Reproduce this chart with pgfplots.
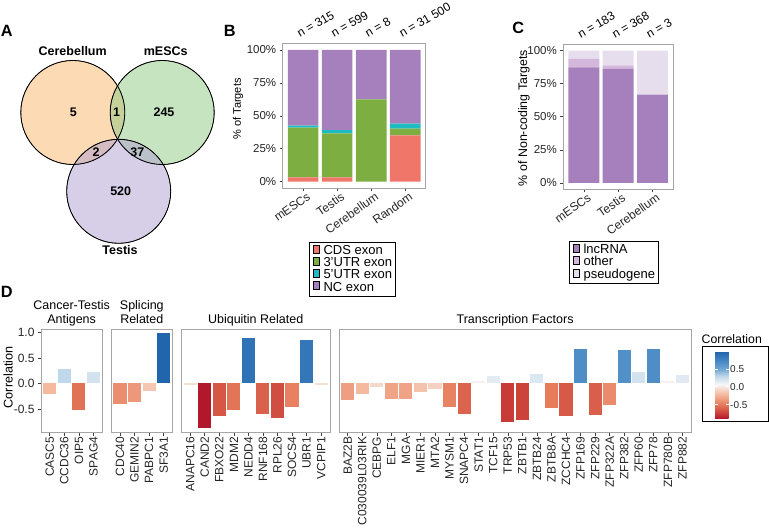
\documentclass[border=0pt]{standalone}
\usepackage{pgfplots}
\pgfplotsset{compat=1.18}
\usepackage{fontspec}
\setmainfont{Liberation Sans}
\definecolor{cds}{RGB}{240,118,106}
\definecolor{utrthree}{RGB}{124,174,66}
\definecolor{utrfive}{RGB}{30,188,194}
\definecolor{ncex}{RGB}{165,128,188}
\definecolor{lnc}{RGB}{165,128,188}
\definecolor{oth}{RGB}{212,184,220}
\definecolor{pseu}{RGB}{231,222,237}
\definecolor{vO}{RGB}{249,181,105}
\definecolor{vG}{RGB}{143,201,129}
\definecolor{vP}{RGB}{175,159,209}
\definecolor{frame}{RGB}{165,165,165}
\definecolor{cN4}{RGB}{178,24,43}
\definecolor{cN3}{RGB}{208,72,62}
\definecolor{cN2}{RGB}{229,122,90}
\definecolor{cN1}{RGB}{245,183,155}
\definecolor{cZ}{RGB}{247,247,247}
\definecolor{cP1}{RGB}{190,215,235}
\definecolor{cP2}{RGB}{110,165,210}
\definecolor{cP3}{RGB}{66,132,194}
\definecolor{cP4}{RGB}{33,102,172}
\newcommand\fs[1]{\fontsize{#1}{#1}\selectfont}
\newcommand\segcol[5]{%
  \pgfmathsetmacro\cp{max(0,min(100,((#1)-(#2))/((#3)-(#2))*100))}%
  \edef\ccol{#5!\cp!#4}}
\newcommand\cbar[2]{%
  \ifdim #2pt<-0.7pt \segcol{#2}{-0.88}{-0.7}{cN4}{cN3}%
  \else\ifdim #2pt<-0.5pt \segcol{#2}{-0.7}{-0.5}{cN3}{cN2}%
  \else\ifdim #2pt<-0.22pt \segcol{#2}{-0.5}{-0.22}{cN2}{cN1}%
  \else\ifdim #2pt<0.07pt \segcol{#2}{-0.22}{0.07}{cN1}{cZ}%
  \else\ifdim #2pt<0.3pt \segcol{#2}{0.07}{0.3}{cZ}{cP1}%
  \else\ifdim #2pt<0.5pt \segcol{#2}{0.3}{0.5}{cP1}{cP2}%
  \else\ifdim #2pt<0.75pt \segcol{#2}{0.5}{0.75}{cP2}{cP3}%
  \else \segcol{#2}{0.75}{0.98}{cP3}{cP4}%
  \fi\fi\fi\fi\fi\fi\fi
  \edef\cbartmp{\noexpand\addplot[ybar, bar shift=0pt, bar width=0.9, draw=none, fill=\ccol] coordinates {(#1,#2)};}%
  \cbartmp}
\pgfplotsset{
  colormap={corr}{rgb255(0pt)=(178,24,43) rgb255(18pt)=(208,72,62) rgb255(38pt)=(229,122,90) rgb255(66pt)=(245,183,155) rgb255(95pt)=(247,247,247) rgb255(118pt)=(190,215,235) rgb255(138pt)=(110,165,210) rgb255(163pt)=(66,132,194) rgb255(186pt)=(33,102,172)},
  panel/.style={scale only axis, anchor=south west,
    axis line style={draw=frame, line width=0.7pt},
    tick align=outside, major tick length=3pt,
    tick style={draw=black!75, line width=0.5pt},
    xtick pos=left, ytick pos=left, clip=false,
    ticklabel style={text=black!85}},
  leg/.style={legend cell align=left,
    legend image code/.code={\fill[##1,draw=none] (0pt,-3.4pt) rectangle (10.5pt,9.2pt);},
    legend style={anchor=north west, draw=black, line width=0.8pt, font=\fs{13},
      inner xsep=3.5pt, inner ysep=2.5pt,
      nodes={inner sep=0pt, text height=9.1pt, text depth=2.7pt},
      /tikz/every odd column/.append style={column sep=3.5pt}}},
  dfacet/.style={panel, height=103.4pt, ymin=-0.965, ymax=1.06,
    xmin=0.4, xticklabel style={rotate=90, anchor=east, font=\fs{12}, inner sep=1pt},
    title style={font=\fontsize{12.5}{14.5}\selectfont, align=center, anchor=south,
      at={(0.5,1)}, yshift=-5pt, inner sep=0pt}},
}
\begin{document}
\begin{tikzpicture}[x=1pt,y=1pt]
\useasboundingbox (0,0) rectangle (769,532);
% ---------------- A: Venn
\begin{axis}[at={(0pt,272pt)}, anchor=south west, scale only axis, width=230pt, height=220pt,
  xmin=0, xmax=230, ymin=40, ymax=260, y dir=reverse, hide axis, clip=false]
\addplot[only marks, mark=*, mark size=52pt, mark options={draw=none, fill=vO, fill opacity=0.5}] coordinates {(72.8,112.5)};
\addplot[only marks, mark=*, mark size=52pt, mark options={draw=none, fill=vG, fill opacity=0.5}] coordinates {(162.2,112.5)};
\addplot[only marks, mark=*, mark size=52pt, mark options={draw=none, fill=vP, fill opacity=0.5}] coordinates {(118.7,191.3)};
\addplot[only marks, mark=o, mark size=52pt, mark options={draw=black, line width=0.8pt}] coordinates {(72.8,112.5) (162.2,112.5) (118.7,191.3)};
\addplot[draw=none, mark=none, point meta=explicit symbolic, nodes near coords,
  every node near coord/.append style={anchor=center, font=\bfseries\fs{12.5}, text=black, fill opacity=1, text opacity=1}]
  coordinates {(73.3,112) [5] (116.7,112) [1] (164,112) [245] (96,152) [2] (137.3,152) [37] (120.7,191) [520]};
\node[font=\bfseries\fs{12.5}] at (axis cs:72.7,51) {Cerebellum};
\node[font=\bfseries\fs{12.5}] at (axis cs:165.7,51) {mESCs};
\node[font=\bfseries\fs{12.5}] at (axis cs:120,250) {Testis};
\end{axis}
% ---------------- B
\begin{axis}[panel, leg, at={(282.7pt,343.7pt)}, width=143pt, height=145pt,
  ybar stacked, bar width=0.9, xmin=0.4, xmax=4.6, ymin=-5, ymax=105,
  xtick={1,2,3,4}, xticklabels={mESCs,Testis,Cerebellum,Random},
  ytick={0,25,50,75,100}, yticklabels={0\%,25\%,50\%,75\%,100\%},
  xticklabel style={rotate=35, anchor=north east, inner sep=0pt, font=\fs{12}, xshift=2.5pt, yshift=-2pt},
  yticklabel style={font=\fs{11.5}},
  ylabel={\% of Targets}, ylabel style={font=\fs{11}, at={(axis description cs:-0.3126,0.547)}, anchor=center},
  legend style={at={(0.186,-0.368)}}]
\addplot[fill=cds, draw=none] coordinates {(1,3.3) (2,3.3) (3,0) (4,35.2)};
\addplot[fill=utrthree, draw=none] coordinates {(1,37.7) (2,33.4) (3,62.5) (4,5.0)};
\addplot[fill=utrfive, draw=none] coordinates {(1,1.5) (2,2.5) (3,0) (4,3.8)};
\addplot[fill=ncex, draw=none] coordinates {(1,57.5) (2,60.8) (3,37.5) (4,56.0)};
\legend{CDS exon,3'UTR exon,5'UTR exon,NC exon}
\foreach \i/\t in {1/315,2/599,3/8,4/31 500}{
  \edef\tmp{\noexpand\node[anchor=south west, xshift=-3pt, yshift=5pt, rotate=30, inner sep=0pt, font=\noexpand\fs{12}] at (axis cs:\i,105) {n = \t};}\tmp}
\end{axis}
% ---------------- C
\begin{axis}[panel, leg, at={(563.3pt,342.5pt)}, width=109.7pt, height=145.5pt,
  ybar stacked, bar width=0.9, xmin=0.4, xmax=3.6, ymin=-5, ymax=105,
  xtick={1,2,3}, xticklabels={mESCs,Testis,Cerebellum},
  ytick={0,25,50,75,100}, yticklabels={0\%,25\%,50\%,75\%,100\%},
  xticklabel style={rotate=35, anchor=north east, inner sep=0pt, font=\fs{12}, xshift=2.5pt, yshift=-2pt},
  yticklabel style={font=\fs{11.5}},
  ylabel={\% of Non-coding Targets}, ylabel style={font=\fs{12.4}, at={(axis description cs:-0.358,0.49)}, anchor=center},
  legend style={at={(0.055,-0.355)}}]
\addplot[fill=lnc, draw=none] coordinates {(1,87.4) (2,86.1) (3,66.7)};
\addplot[fill=oth, draw=none] coordinates {(1,6.6) (2,2.8) (3,0)};
\addplot[fill=pseu, draw=none] coordinates {(1,6.0) (2,11.1) (3,33.3)};
\legend{lncRNA,other,pseudogene}
\foreach \i/\t in {1/183,2/368,3/3}{
  \edef\tmp{\noexpand\node[anchor=south west, xshift=-3pt, yshift=5pt, rotate=30, inner sep=0pt, font=\noexpand\fs{12}] at (axis cs:\i,105) {n = \t};}\tmp}
\end{axis}
% ---------------- D facets
\begin{axis}[dfacet, at={(41pt,99.3pt)}, width=61.2pt, xmax=4.6,
  title={Cancer-Testis\\Antigens\strut},
  xtick={1,2,3,4}, xticklabels={CASC5,CCDC36,OIP5,SPAG4},
  ytick={-0.5,0,0.5,1}, yticklabels={-0.5,0.0,0.5,1.0}, yticklabel style={font=\fs{12}},
  ylabel={Correlation}, ylabel style={font=\fs{12.6}, at={(axis description cs:-0.539,0.534)}, anchor=center}]
\cbar{1}{-0.21}\cbar{2}{0.29}\cbar{3}{-0.53}\cbar{4}{0.22}
\end{axis}
\begin{axis}[dfacet, at={(111.2pt,99.3pt)}, width=61.2pt, xmax=4.6, ytick=\empty,
  title={Splicing\\Related\strut},
  xtick={1,2,3,4}, xticklabels={CDC40,GEMIN2,PABPC1,SF3A1}]
\cbar{1}{-0.41}\cbar{2}{-0.36}\cbar{3}{-0.15}\cbar{4}{0.98}
\end{axis}
\begin{axis}[dfacet, at={(181.4pt,99.3pt)}, width=148.5pt, xmax=10.6, ytick=\empty,
  title={Ubiquitin Related\strut},
  xtick={1,...,10}, xticklabels={ANAPC16,CAND2,FBXO22,MDM2,NEDD4,RNF168,RPL26,SOCS4,UBR1,VCPIP1}]
\cbar{1}{-0.04}\cbar{2}{-0.88}\cbar{3}{-0.64}\cbar{4}{-0.52}\cbar{5}{0.88}
\cbar{6}{-0.60}\cbar{7}{-0.68}\cbar{8}{-0.47}\cbar{9}{0.85}\cbar{10}{-0.04}
\end{axis}
\begin{axis}[dfacet, at={(338.9pt,99.3pt)}, width=352.3pt, xmax=24.6, ytick=\empty,
  title={Transcription Factors\strut},
  xtick={1,...,24}, xticklabels={BAZ2B,C030039L03RIK,CEBPG,ELF1,MGA,MIER1,MTA2,MYSM1,SNAPC4,STAT1,TCF15,TRP53,ZBTB1,ZBTB24,ZBTB8A,ZCCHC4,ZFP169,ZFP229,ZFP322A,ZFP382,ZFP60,ZFP78,ZFP780B,ZFP882},
  colormap name=corr, colorbar, point meta min=-0.88, point meta max=0.98,
  colorbar style={at={(parent axis.north east)}, anchor=north west, xshift=15.5pt, yshift=-22.4pt,
    scale only axis, width=13.3pt, height=66.6pt,
    ytick={-0.5,0,0.5}, yticklabels={-0.5,0.0,0.5},
    yticklabel style={font=\fs{10}, inner sep=1.5pt, text=black!85},
    axis line style={draw=none}, tick align=inside, major tick length=2.5pt,
    ytick style={draw=white, line width=0.6pt}, ytick pos=both, yticklabel pos=right}]
\cbar{1}{-0.33}\cbar{2}{-0.21}\cbar{3}{-0.07}\cbar{4}{-0.31}\cbar{5}{-0.31}
\cbar{6}{-0.17}\cbar{7}{-0.10}\cbar{8}{-0.46}\cbar{9}{-0.59}\cbar{10}{0.04}
\cbar{11}{0.15}\cbar{12}{-0.75}\cbar{13}{-0.72}\cbar{14}{0.18}\cbar{15}{-0.49}
\cbar{16}{-0.63}\cbar{17}{0.68}\cbar{18}{-0.61}\cbar{19}{-0.42}\cbar{20}{0.66}
\cbar{21}{0.22}\cbar{22}{0.68}\cbar{23}{0.04}\cbar{24}{0.16}
\end{axis}
% colorbar legend frame and title
\draw[black, line width=0.8pt] (702,185.3) rectangle (768.3,110.3);
\node[anchor=west, inner sep=0pt, font=\fs{12.3}] at (701.5,192.5) {Correlation};
% panel letters
\node[font=\bfseries\fs{16.3}] at (6.7,501.2) {A};
\node[font=\bfseries\fs{16.3}] at (229.7,501.2) {B};
\node[font=\bfseries\fs{16.3}] at (518.3,503.7) {C};
\node[font=\bfseries\fs{16.3}] at (6.7,239.7) {D};
\end{tikzpicture}
\end{document}
